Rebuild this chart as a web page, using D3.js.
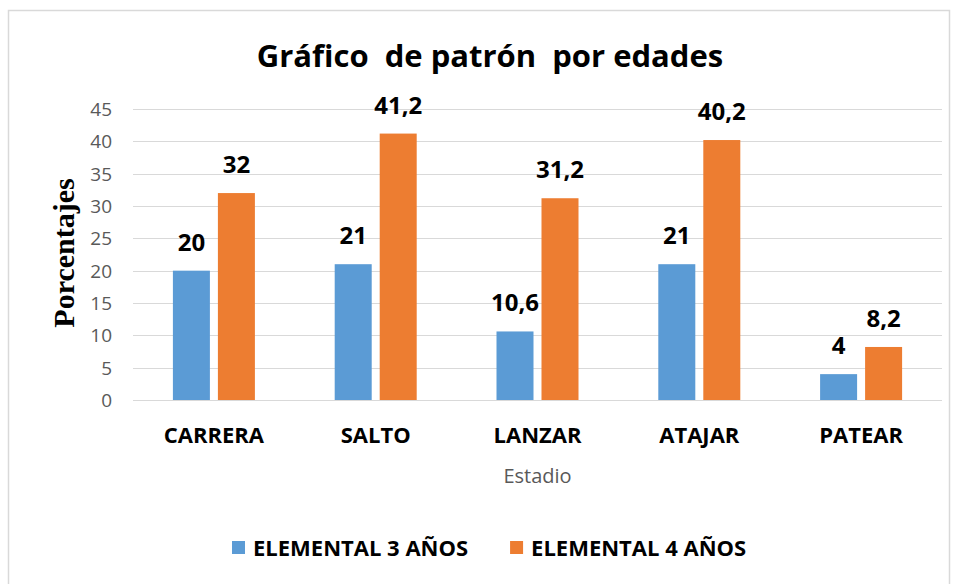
<!DOCTYPE html>
<html>
<head>
<meta charset="utf-8">
<script src="https://cdn.jsdelivr.net/npm/d3@7"></script>
<style>
  body { margin: 0; background: #fff; }
  text { font-family: "Open Sans", sans-serif; }
</style>
</head>
<body>
<div id="chart"></div>
<script>
// data
var categories = ["CARRERA", "SALTO", "LANZAR", "ATAJAR", "PATEAR"];
var seriesNames = ["ELEMENTAL 3 AÑOS", "ELEMENTAL 4 AÑOS"];
var values3 = [20, 21, 10.6, 21, 4];
var values4 = [32, 41.2, 31.2, 40.2, 8.2];
var yTicks = [0, 5, 10, 15, 20, 25, 30, 35, 40, 45];
var colors = ["#5b9bd5", "#ed7d31"];

var width = 959, height = 584;
var plot = {left: 133, right: 942, top: 109, bottom: 400};

var svg = d3.select("#chart")
  .append("svg")
    .attr("width", width)
    .attr("height", height);

// chart frame
svg.append("rect")
  .attr("x", 8.5).attr("y", 10.5)
  .attr("width", 941).attr("height", 600)
  .attr("fill", "#fff")
  .attr("stroke", "#d9d9d9")
  .attr("stroke-width", 1.5);

var x = d3.scaleBand()
  .domain(categories)
  .range([plot.left, plot.right])
  .paddingInner(0)
  .paddingOuter(0);

var y = d3.scaleLinear()
  .domain([0, 45])
  .range([plot.bottom, plot.top]);

// gridlines
svg.append("g")
  .selectAll("line")
  .data(yTicks)
  .enter()
  .append("line")
    .attr("x1", plot.left)
    .attr("x2", plot.right)
    .attr("y1", function(d) { return Math.round(y(d)) + 0.5; })
    .attr("y2", function(d) { return Math.round(y(d)) + 0.5; })
    .attr("stroke", "#d9d9d9")
    .attr("stroke-width", 1);

// y tick labels
svg.append("g")
  .selectAll("text")
  .data(yTicks)
  .enter()
  .append("text")
    .attr("x", 112)
    .attr("y", function(d) { return y(d); })
    .attr("dy", "0.36em")
    .attr("text-anchor", "end")
    .style("font-size", "19px")
    .style("fill", "#595959")
    .text(function(d) { return d; });

// bars
var barW = 37, gap = 8;
var series = [values3, values4];
series.forEach(function(vals, s) {
  var offset = s === 0 ? -(gap / 2 + barW) : gap / 2;
  var g = svg.append("g");
  g.selectAll("rect")
    .data(vals)
    .enter()
    .append("rect")
      .attr("x", function(d, i) { return x(categories[i]) + x.bandwidth() / 2 + offset; })
      .attr("y", function(d) { return y(d); })
      .attr("width", barW)
      .attr("height", function(d) { return y(0) - y(d); })
      .attr("fill", colors[s]);
  g.selectAll("text")
    .data(vals)
    .enter()
    .append("text")
      .attr("x", function(d, i) { return x(categories[i]) + x.bandwidth() / 2 + offset + barW / 2; })
      .attr("y", function(d) { return y(d) - 20; })
      .attr("text-anchor", "middle")
      .style("font-size", "24px")
      .style("font-weight", "bold")
      .style("fill", "#000")
      .text(function(d) { return String(d).replace(".", ","); });
});

// category labels
svg.append("g")
  .selectAll("text")
  .data(categories)
  .enter()
  .append("text")
    .attr("x", function(d) { return x(d) + x.bandwidth() / 2; })
    .attr("y", 443)
    .attr("text-anchor", "middle")
    .style("font-size", "22px")
    .style("font-weight", "bold")
    .style("fill", "#000")
    .text(function(d) { return d; });

// axis titles
svg.append("text")
  .attr("x", (plot.left + plot.right) / 2)
  .attr("y", 483)
  .attr("text-anchor", "middle")
  .style("font-size", "20px")
  .style("fill", "#595959")
  .text("Estadio");

svg.append("text")
  .attr("transform", "translate(74,253) rotate(-90)")
  .attr("text-anchor", "middle")
  .style("font-family", "'Liberation Serif', 'Times New Roman', serif")
  .style("font-size", "30px")
  .style("font-weight", "bold")
  .style("fill", "#000")
  .text("Porcentajes");

// title
svg.append("text")
  .attr("x", 490)
  .attr("y", 67)
  .attr("text-anchor", "middle")
  .style("font-size", "31px")
  .style("font-weight", "bold")
  .style("white-space", "pre")
  .style("fill", "#000")
  .text("Gráfico  de patrón  por edades");

// legend
var legend = svg.append("g");
var lx = 232;
seriesNames.forEach(function(name, i) {
  legend.append("rect")
    .attr("x", lx).attr("y", 541)
    .attr("width", 13).attr("height", 13)
    .attr("fill", colors[i]);
  var t = legend.append("text")
    .attr("x", lx + 21)
    .attr("y", 556)
    .style("font-size", "22px")
    .style("font-weight", "bold")
    .style("fill", "#000")
    .text(name);
  lx += 21 + t.node().getComputedTextLength() + 42;
});
</script>
</body>
</html>
